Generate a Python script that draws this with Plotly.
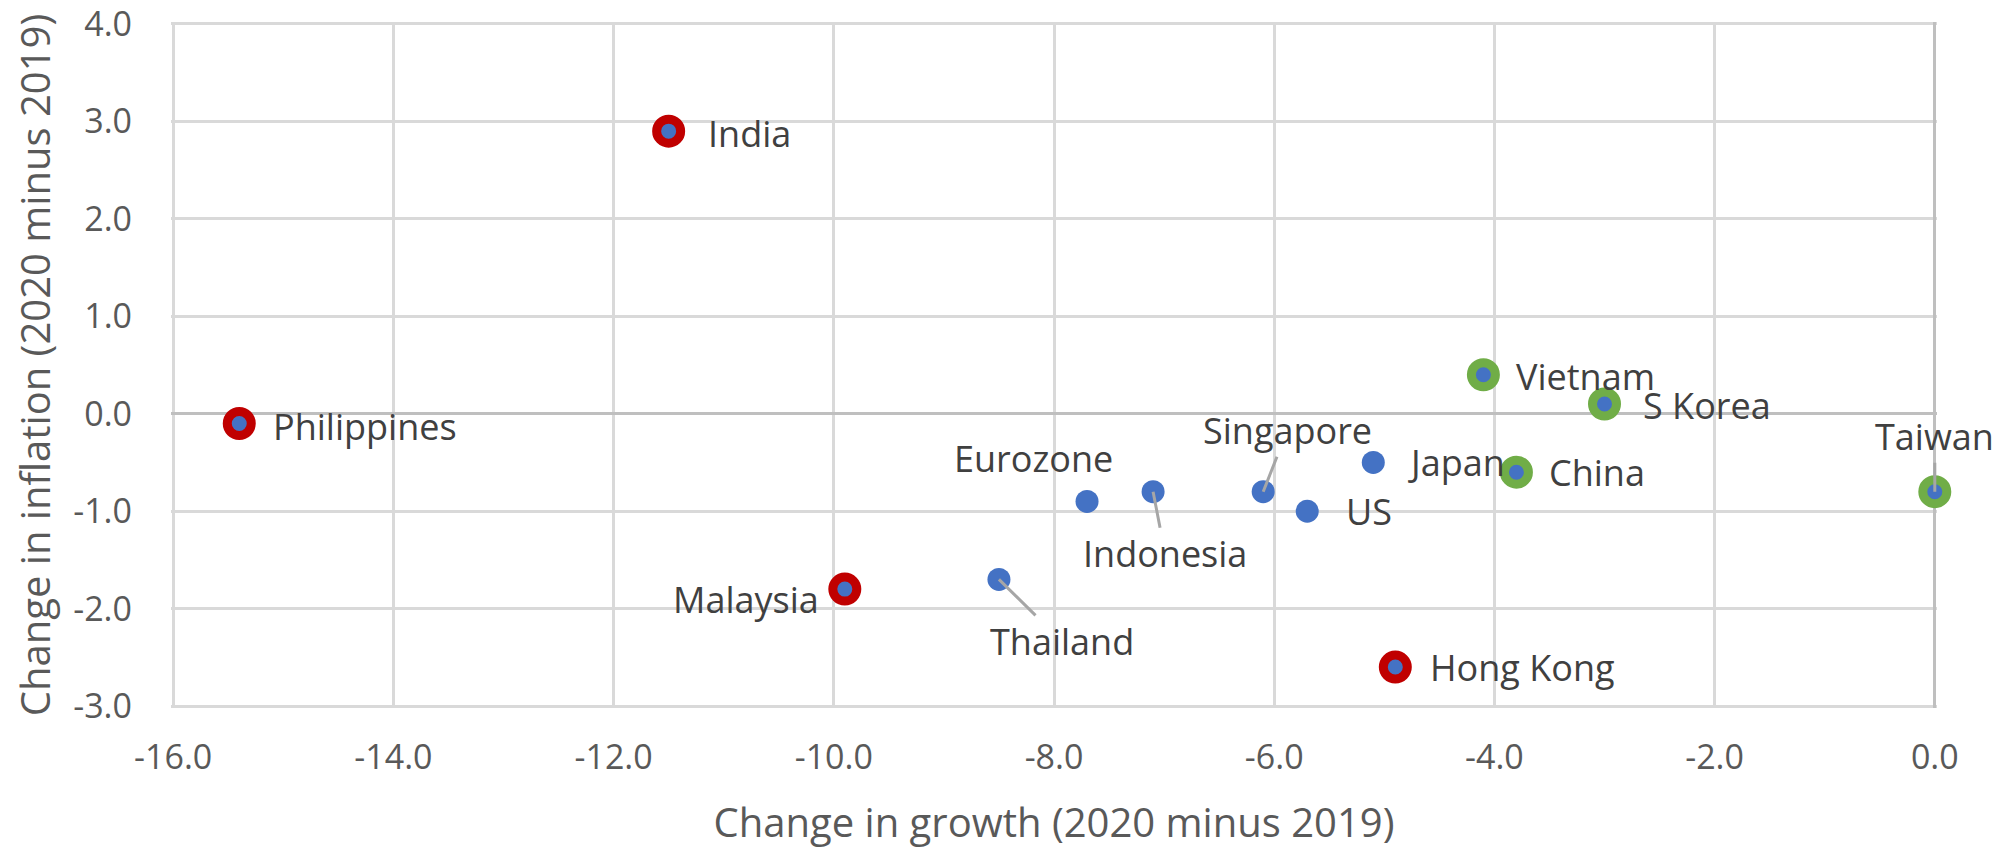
import plotly.graph_objects as go

# ---------------- data ----------------
countries = ["Philippines", "India", "Malaysia", "Thailand", "Eurozone", "Indonesia",
             "Singapore", "US", "Japan", "Hong Kong", "Vietnam", "China", "S Korea", "Taiwan"]
growth_change = [-15.4, -11.5, -9.9, -8.5, -7.7, -7.1, -6.1, -5.7, -5.1, -4.9, -4.1, -3.8, -3.0, 0.0]
inflation_change = [-0.1, 2.9, -1.8, -1.7, -0.9, -0.8, -0.8, -1.0, -0.5, -2.6, 0.4, -0.6, 0.1, -0.8]
highlight = ["red", "red", "red", "none", "none", "none",
             "none", "none", "none", "red", "green", "green", "green", "green"]

x_ticks = [-16, -14, -12, -10, -8, -6, -4, -2, 0]
x_tick_labels = ["-16.0", "-14.0", "-12.0", "-10.0", "-8.0", "-6.0", "-4.0", "-2.0", "0.0"]
y_ticks = [-3, -2, -1, 0, 1, 2, 3, 4]
y_tick_labels = ["-3.0", "-2.0", "-1.0", "0.0", "1.0", "2.0", "3.0", "4.0"]

x_title = "Change in growth (2020 minus 2019)"
y_title = "Change in inflation (2020 minus 2019)"

# ---------------- styles ----------------
BLUE = "#4472C4"
RED = "#C00000"
GREEN = "#70AD47"
FONT = "Open Sans"

# label placement (pixel offsets from the point)
label_style = {
    "Philippines": dict(mode="side", anchor="left", dx=32, dy=-3),
    "India": dict(mode="side", anchor="left", dx=37, dy=-2),
    "Malaysia": dict(mode="side", anchor="right", dx=-24, dy=-10),
    "Hong Kong": dict(mode="side", anchor="left", dx=33, dy=0),
    "Vietnam": dict(mode="side", anchor="left", dx=31, dy=-2),
    "S Korea": dict(mode="side", anchor="left", dx=36, dy=-2),
    "China": dict(mode="side", anchor="left", dx=31, dy=0),
    "Japan": dict(mode="side", anchor="left", dx=33, dy=0),
    "US": dict(mode="side", anchor="left", dx=37, dy=0),
    "Eurozone": dict(mode="side", anchor="center", dx=-54, dy=43),
    "Taiwan": dict(mode="leader", ax=0, ay=-55),
    "Indonesia": dict(mode="leader", ax=12, ay=62),
    "Singapore": dict(mode="leader", ax=24, ay=-61),
    "Thailand": dict(mode="leader", ax=63, ay=62),
}

fig = go.Figure()

# plain blue points
idx_plain = [i for i, h in enumerate(highlight) if h == "none"]
fig.add_trace(go.Scatter(
    x=[growth_change[i] for i in idx_plain],
    y=[inflation_change[i] for i in idx_plain],
    text=[countries[i] for i in idx_plain],
    mode="markers",
    marker=dict(size=23, color=BLUE, line=dict(width=0)),
    hoverinfo="text+x+y",
    cliponaxis=False,
))

for grp, col in (("red", RED), ("green", GREEN)):
    idx = [i for i, h in enumerate(highlight) if h == grp]
    fig.add_trace(go.Scatter(
        x=[growth_change[i] for i in idx],
        y=[inflation_change[i] for i in idx],
        text=[countries[i] for i in idx],
        mode="markers",
        marker=dict(size=24, color=BLUE, line=dict(width=9, color=col)),
        hoverinfo="text+x+y",
        cliponaxis=False,
    ))

label_font = dict(family=FONT, size=36, color="#404040")
for name, gx, iy in zip(countries, growth_change, inflation_change):
    st = label_style[name]
    if st["mode"] == "side":
        fig.add_annotation(x=gx, y=iy, text=name, showarrow=False,
                           xanchor=st["anchor"], yanchor="middle",
                           xshift=st["dx"], yshift=st["dy"], font=label_font)
    else:
        fig.add_annotation(x=gx, y=iy, text=name, showarrow=True,
                           arrowhead=0, arrowwidth=3, arrowcolor="#A6A6A6",
                           ax=st["ax"], ay=st["ay"], standoff=0,
                           font=label_font)

tick_font = dict(family=FONT, size=34, color="#595959")
title_font = dict(family=FONT, size=40, color="#595959")

fig.update_layout(
    width=2015, height=850,
    margin=dict(l=171, r=78, t=22, b=142),
    plot_bgcolor="white", paper_bgcolor="white",
    showlegend=False,
    xaxis=dict(
        range=[-16.02, 0.02], tickvals=x_ticks, ticktext=x_tick_labels,
        showgrid=True, gridcolor="#D9D9D9", gridwidth=3,
        zeroline=True, zerolinecolor="#BFBFBF", zerolinewidth=3,
        showline=False, ticks="", ticklabelstandoff=26,
        ticklabeloverflow="allow",
        tickfont=tick_font, automargin=False,
        title=dict(text=x_title, font=title_font, standoff=30),
    ),
    yaxis=dict(
        range=[-3.02, 4.02], tickvals=y_ticks, ticktext=y_tick_labels,
        showgrid=True, gridcolor="#D9D9D9", gridwidth=3,
        zeroline=True, zerolinecolor="#BFBFBF", zerolinewidth=3,
        showline=False, ticks="", ticklabelstandoff=38,
        ticklabeloverflow="allow",
        tickfont=tick_font, automargin=False,
        title=dict(text=y_title, font=title_font, standoff=10),
    ),
)

# remove the default 8px page margin so the figure fills the window exactly
fig.write_html("out.html", config={"displayModeBar": False},
               post_script="document.body.style.margin='0';")
